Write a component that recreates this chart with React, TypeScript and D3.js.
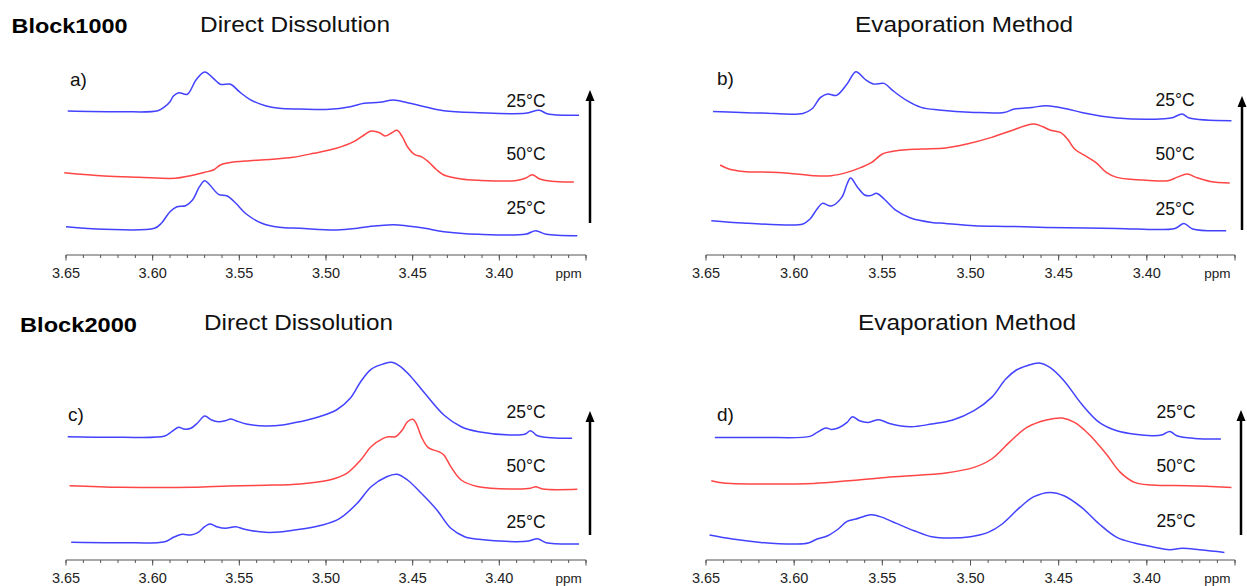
import React from "react";
import * as d3 from "d3";

type Pt = [number, number]; // [chemical shift (ppm), intensity (a.u.)]

// ---- Block1000, direct dissolution ----
const A_TOP: Pt[] = [[3.649,144],[3.618,143.3],[3.597,144.3],[3.593,148.3],[3.59,153.3],[3.588,159],[3.585,162.3],[3.58,160.7],[3.575,175],[3.57,183],[3.565,176.7],[3.561,170.7],[3.555,170.7],[3.55,163.3],[3.544,155.7],[3.535,149.3],[3.527,146.7],[3.515,146],[3.498,145.7],[3.486,148.3],[3.478,151.7],[3.469,152.7],[3.461,155],[3.453,152.3],[3.443,148.3],[3.432,144.3],[3.412,142.3],[3.385,141.7],[3.377,144.7],[3.372,141],[3.354,139.7]];
const A_RED: Pt[] = [[3.651,82.3],[3.628,79],[3.608,77.7],[3.587,76.7],[3.579,79],[3.57,82.7],[3.565,85],[3.561,90],[3.556,92.3],[3.544,94.3],[3.531,95.7],[3.519,97.7],[3.507,101.7],[3.494,106.7],[3.484,113.3],[3.478,120],[3.474,124],[3.469,122.3],[3.466,119],[3.462,122.3],[3.459,124.7],[3.456,118.3],[3.453,108.3],[3.449,100.7],[3.445,98.3],[3.441,93.3],[3.436,85],[3.432,80],[3.422,76],[3.412,74.7],[3.391,74.3],[3.385,76.7],[3.381,80.3],[3.377,76.3],[3.37,73.7],[3.357,73]];
const A_BOT: Pt[] = [[3.65,28.3],[3.628,25.7],[3.599,26.7],[3.595,31.7],[3.59,43.3],[3.586,48.3],[3.581,49.3],[3.577,55],[3.573,68.3],[3.57,74.3],[3.567,70],[3.562,60.7],[3.557,59],[3.552,51.7],[3.546,41],[3.537,31.7],[3.527,27.7],[3.515,26.7],[3.494,25],[3.482,26.7],[3.474,28.7],[3.461,30.3],[3.453,29],[3.443,26.7],[3.432,23.3],[3.412,20.7],[3.385,20.7],[3.379,24.3],[3.373,20.7],[3.355,19.3]];

// ---- Block1000, evaporation method ----
const B_TOP: Pt[] = [[3.646,143.6],[3.619,142],[3.595,141.6],[3.59,146],[3.585,157.6],[3.581,161],[3.576,159.6],[3.57,171],[3.565,183.3],[3.56,176],[3.555,171],[3.549,171.6],[3.544,164.3],[3.536,154.3],[3.528,147.6],[3.518,145],[3.498,142.6],[3.481,142.6],[3.475,146],[3.465,147.6],[3.457,149.3],[3.445,146],[3.437,142.6],[3.417,137],[3.39,136.3],[3.385,137.6],[3.38,141],[3.376,137],[3.352,134.3]];
const B_RED: Pt[] = [[3.642,90],[3.637,86],[3.629,83.6],[3.609,82.6],[3.589,79.3],[3.579,79.3],[3.57,82.6],[3.562,87.6],[3.556,92.6],[3.55,101],[3.542,104.3],[3.528,106],[3.514,107],[3.502,111],[3.488,117.6],[3.477,124.3],[3.469,129.3],[3.464,131],[3.459,128.3],[3.455,125],[3.449,122.6],[3.445,116],[3.441,106],[3.435,99.3],[3.429,92.6],[3.423,82.6],[3.417,77.6],[3.405,75.3],[3.388,74.3],[3.383,77.6],[3.377,81],[3.372,77.6],[3.364,73.6],[3.353,72]];
const B_BOT: Pt[] = [[3.647,34.3],[3.629,32],[3.609,30.3],[3.595,31],[3.591,36],[3.587,46],[3.584,51.6],[3.579,49],[3.573,57.6],[3.57,71],[3.568,77],[3.564,67.6],[3.56,60],[3.557,59.3],[3.553,61.6],[3.549,56],[3.542,44.3],[3.534,37],[3.522,32.6],[3.514,31.6],[3.498,29.3],[3.479,28.6],[3.457,27.6],[3.417,26.6],[3.384,26.6],[3.379,31.6],[3.374,26],[3.355,24.3]];

// ---- Block2000, direct dissolution ----
const C_TOP: Pt[] = [[3.649,123.3],[3.618,122.7],[3.593,124],[3.589,128.3],[3.585,132.7],[3.582,131],[3.578,131.7],[3.574,137.3],[3.57,144],[3.566,140],[3.562,138.3],[3.558,139.3],[3.555,141],[3.552,139.3],[3.546,136],[3.535,134],[3.525,135],[3.515,138.3],[3.505,142.7],[3.494,150],[3.486,161.7],[3.48,178.3],[3.474,190.7],[3.467,196],[3.462,197.7],[3.457,193.3],[3.451,183.3],[3.443,166.7],[3.432,145],[3.422,133.3],[3.412,128.3],[3.391,125],[3.385,126],[3.382,129.3],[3.378,124.3],[3.37,122.3],[3.358,121.7]];
const C_RED: Pt[] = [[3.648,74.3],[3.618,72.7],[3.577,72.7],[3.556,74],[3.535,74.7],[3.515,76],[3.498,80],[3.488,86.7],[3.48,100],[3.474,113.3],[3.467,121.7],[3.464,123.3],[3.46,123.3],[3.456,130],[3.453,138.3],[3.45,140.7],[3.448,136.7],[3.445,123.3],[3.441,112.3],[3.435,108.3],[3.432,105],[3.428,93.3],[3.422,80],[3.412,73.3],[3.391,71],[3.382,71.7],[3.379,73.3],[3.375,71],[3.355,70.7]];
const C_BOT: Pt[] = [[3.647,17.7],[3.618,17.3],[3.593,18.3],[3.588,22.7],[3.583,25.7],[3.578,25],[3.574,27.3],[3.57,33.3],[3.567,36],[3.563,33.3],[3.558,31.7],[3.552,33.3],[3.547,30.7],[3.535,27.7],[3.525,28.3],[3.515,30.7],[3.502,35],[3.492,41.7],[3.482,56.7],[3.474,73.3],[3.465,83.3],[3.459,85.7],[3.453,80],[3.445,66.7],[3.436,50],[3.428,31.7],[3.42,23.3],[3.412,20.7],[3.391,18.3],[3.383,19],[3.378,21.3],[3.373,17.3],[3.354,16]];

// ---- Block2000, evaporation method ----
const D_TOP: Pt[] = [[3.645,122.6],[3.619,122.6],[3.591,123.6],[3.587,127.6],[3.582,132],[3.579,130.6],[3.575,132],[3.57,137.6],[3.567,143.3],[3.563,139.3],[3.558,137.6],[3.552,140.3],[3.546,136.6],[3.534,133.3],[3.522,136],[3.51,140],[3.498,149.3],[3.488,162.6],[3.48,181],[3.474,190],[3.468,194.3],[3.461,197],[3.455,192.6],[3.447,179.3],[3.437,156],[3.427,137.6],[3.417,129.3],[3.397,124.3],[3.391,125.3],[3.387,128.6],[3.383,124.3],[3.373,121.6],[3.358,121]];
const D_RED: Pt[] = [[3.647,79.3],[3.64,77],[3.619,76],[3.589,76.6],[3.569,79.3],[3.548,82.6],[3.528,85],[3.514,87],[3.498,92.6],[3.488,101],[3.478,117.6],[3.468,132.6],[3.457,140],[3.448,142],[3.441,137.6],[3.433,126],[3.423,106],[3.415,87.6],[3.407,77.6],[3.397,75],[3.377,74.3],[3.352,72.6]];
const D_BOT: Pt[] = [[3.648,25],[3.635,21],[3.619,17.6],[3.599,16],[3.592,17],[3.587,21],[3.581,24.3],[3.575,31],[3.57,38.6],[3.565,41],[3.561,43.3],[3.556,45.3],[3.55,42.6],[3.542,36.6],[3.532,29.3],[3.522,23.3],[3.512,22],[3.5,23.3],[3.49,27.6],[3.482,36],[3.472,52.6],[3.464,63.3],[3.455,67.6],[3.447,64.3],[3.437,52.6],[3.427,36],[3.417,22.6],[3.407,17],[3.397,13.3],[3.387,10.3],[3.38,11.7],[3.37,10.3],[3.356,7.6]];

const PPM_DOMAIN: [number, number] = [3.65, 3.35];
const MAJOR_TICKS = [3.65, 3.6, 3.55, 3.5, 3.45, 3.4, 3.35];
const TICK_LABELS = ["3.65", "3.60", "3.55", "3.50", "3.45", "3.40"];
const MINOR_TICKS = d3.range(0, 31).map((i) => 3.35 + i * 0.01);
const TEMPS = ["25°C", "50°C", "25°C"];
const SERIES_COLORS = ["#4242ff", "#ff4545", "#4242ff"];

const SANS = "Arial, 'Liberation Sans', Helvetica, sans-serif";

interface PanelProps {
  letter: string;
  traces: Pt[][];
  x0: number;
  x1: number;
  axisY: number;
  labelX: number;
  labelYs: number[];
  letterPos: [number, number];
  arrow: { x: number; y0: number; y1: number };
}

function Panel({ letter, traces, x0, x1, axisY, labelX, labelYs, letterPos, arrow }: PanelProps) {
  const x = d3.scaleLinear().domain(PPM_DOMAIN).range([x0, x1]);
  const y = d3.scaleLinear().domain([0, 200]).range([axisY, axisY - 200]);
  const line = d3
    .line<Pt>()
    .x((d) => x(d[0]))
    .y((d) => y(d[1]))
    .curve(d3.curveCatmullRom.alpha(0.5));

  return (
    <g>
      <text x={letterPos[0]} y={letterPos[1]} fontSize={19} fontFamily={SANS} fill="#111">
        {letter}
      </text>
      {traces.map((t, i) => (
        <path key={i} d={line(t) ?? ""} fill="none" stroke={SERIES_COLORS[i]} strokeWidth={1.5} strokeLinejoin="round" />
      ))}
      {TEMPS.map((t, i) => (
        <text key={i} x={labelX} y={labelYs[i]} fontSize={17.5} fontFamily={SANS} textAnchor="middle" fill="#111">
          {t}
        </text>
      ))}
      {/* heating / cooling direction arrow */}
      <line x1={arrow.x} x2={arrow.x} y1={arrow.y0} y2={arrow.y1 + 9} stroke="#000" strokeWidth={2.5} />
      <path
        d={`M${arrow.x},${arrow.y1} L${arrow.x - 4.5},${arrow.y1 + 11} L${arrow.x + 4.5},${arrow.y1 + 11} Z`}
        fill="#000"
      />
      {/* ppm axis */}
      <line x1={x(3.65)} x2={x(3.35)} y1={axisY} y2={axisY} stroke="#555" strokeWidth={1} />
      {MINOR_TICKS.map((t, i) => (
        <line key={"m" + i} x1={x(t)} x2={x(t)} y1={axisY} y2={axisY + 3} stroke="#555" strokeWidth={1} />
      ))}
      {MAJOR_TICKS.map((t, i) => (
        <line key={"M" + i} x1={x(t)} x2={x(t)} y1={axisY} y2={axisY + 5.5} stroke="#555" strokeWidth={1} />
      ))}
      {TICK_LABELS.map((l) => (
        <text key={l} x={x(+l)} y={axisY + 22.5} fontSize={14.5} fontFamily={SANS} textAnchor="middle" fill="#222">
          {l}
        </text>
      ))}
      <text x={x(3.36)} y={axisY + 22.5} fontSize={13.5} fontFamily={SANS} textAnchor="middle" fill="#222">
        ppm
      </text>
    </g>
  );
}

export default function App() {
  return (
    <svg
      width={1247}
      height={586}
      style={{ position: "absolute", left: 0, top: 0, background: "#fff", display: "block" }}
    >
      <rect width={1247} height={586} fill="#fff" />
      <text x={11.5} y={33} fontSize={21} fontWeight="bold" fontFamily={SANS} textLength={116} lengthAdjust="spacingAndGlyphs" fill="#000">
        Block1000
      </text>
      <text x={200} y={32} fontSize={22} fontFamily={SANS} textLength={190} lengthAdjust="spacingAndGlyphs" fill="#111">
        Direct Dissolution
      </text>
      <text x={855} y={32} fontSize={22} fontFamily={SANS} textLength={218} lengthAdjust="spacingAndGlyphs" fill="#111">
        Evaporation Method
      </text>
      <text x={20} y={332} fontSize={21} fontWeight="bold" fontFamily={SANS} textLength={117} lengthAdjust="spacingAndGlyphs" fill="#000">
        Block2000
      </text>
      <text x={204} y={330} fontSize={22} fontFamily={SANS} textLength={189} lengthAdjust="spacingAndGlyphs" fill="#111">
        Direct Dissolution
      </text>
      <text x={858} y={330} fontSize={22} fontFamily={SANS} textLength={218} lengthAdjust="spacingAndGlyphs" fill="#111">
        Evaporation Method
      </text>

      <Panel
        letter="a)"
        traces={[A_TOP, A_RED, A_BOT]}
        x0={66}
        x1={586}
        axisY={255}
        labelX={526}
        labelYs={[107, 160, 214]}
        letterPos={[70, 86]}
        arrow={{ x: 590, y0: 223, y1: 90 }}
      />
      <Panel
        letter="b)"
        traces={[B_TOP, B_RED, B_BOT]}
        x0={706}
        x1={1235}
        axisY={255}
        labelX={1175}
        labelYs={[106, 160, 215]}
        letterPos={[717, 85]}
        arrow={{ x: 1242, y0: 230, y1: 96 }}
      />
      <Panel
        letter="c)"
        traces={[C_TOP, C_RED, C_BOT]}
        x0={66}
        x1={586}
        axisY={560}
        labelX={526}
        labelYs={[418, 472, 528]}
        letterPos={[68, 421]}
        arrow={{ x: 590, y0: 535, y1: 411 }}
      />
      <Panel
        letter="d)"
        traces={[D_TOP, D_RED, D_BOT]}
        x0={706}
        x1={1235}
        axisY={560}
        labelX={1176}
        labelYs={[418, 472, 527]}
        letterPos={[717, 421]}
        arrow={{ x: 1241, y0: 535, y1: 410 }}
      />
    </svg>
  );
}
